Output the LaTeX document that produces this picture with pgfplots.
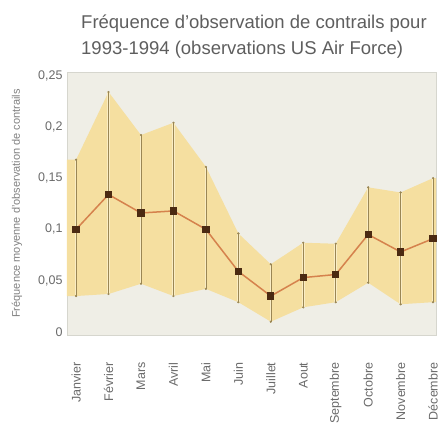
\documentclass[border=0pt]{standalone}
\usepackage{pgfplots}
\pgfplotsset{compat=1.18}
\usepackage{pgfplotstable}
\usepackage{fontspec}
\setmainfont{Liberation Sans}
\definecolor{bgc}{HTML}{EFEEE6}
\definecolor{bandc}{HTML}{F5DFA0}
\definecolor{barc}{HTML}{9A8654}
\definecolor{glowc}{HTML}{FAEDC4}
\definecolor{linec}{HTML}{D5824D}
\definecolor{markc}{HTML}{4B2A12}
\definecolor{titlec}{HTML}{5E5E5E}
\definecolor{tickc}{HTML}{6A6A6A}
\definecolor{framec}{HTML}{D6D6CE}

\pgfplotstableread{
x mean lo hi
0 0.100 0.035 0.168
1 0.134 0.037 0.234
2 0.116 0.047 0.192
3 0.118 0.035 0.204
4 0.100 0.042 0.161
5 0.059 0.029 0.096
6 0.035 0.010 0.066
7 0.053 0.024 0.087
8 0.056 0.029 0.086
9 0.095 0.048 0.141
10 0.078 0.027 0.136
11 0.091 0.029 0.150
}\data

% band outline: upper edge left to right, then lower edge right to left
\pgfplotstableread{
x y
-0.28 0.168
0 0.168
1 0.234
2 0.192
3 0.204
4 0.161
5 0.096
6 0.066
7 0.087
8 0.086
9 0.141
10 0.136
11 0.150
11.09 0.150
11.09 0.029
11 0.029
10 0.027
9 0.048
8 0.029
7 0.024
6 0.010
5 0.029
4 0.042
3 0.035
2 0.047
1 0.037
0 0.035
-0.28 0.035
}\band

\begin{document}
\begin{tikzpicture}
\begin{axis}[
  at={(0,0)}, anchor=south west,
  scale only axis,
  width=369pt, height=263pt,
  xmin=-0.28, xmax=11.09,
  ymin=-0.003, ymax=0.2535,
  axis background/.style={fill=bgc},
  axis line style={draw=framec, line width=0.8pt},
  xtick={0,...,11},
  xticklabels={Janvier,Février,Mars,Avril,Mai,Juin,Juillet,Aout,Septembre,Octobre,Novembre,Décembre},
  ytick={0,0.05,0.1,0.15,0.2,0.25},
  yticklabel style={/pgf/number format/use comma, /pgf/number format/fixed, /pgf/number format/assume math mode=true, font=\fontsize{12.5}{14}\selectfont, text=tickc},
  xticklabel style={rotate=90, anchor=east, font=\fontsize{12.5}{14}\selectfont, text=tickc},
  xticklabel shift=24pt,
  yticklabel shift=1pt,
  major tick length=0pt,
  tick style={draw=none},
  ylabel={Fréquence moyenne d'observation de contrails},
  ylabel style={font=\fontsize{11}{13}\selectfont, text=gray, at={(axis description cs:0,0.5)}, anchor=center, yshift=50pt},
  clip=false,
]
\addplot[fill=bandc, draw=none] table[x=x, y=y] {\band} -- cycle;

\addplot[only marks, mark=none,
  error bars/.cd, y dir=both, y explicit,
  error bar style={line width=2.5pt, color=glowc},
  error mark=none]
  table[x=x, y=mean, y error plus expr=\thisrow{hi}-\thisrow{mean}, y error minus expr=\thisrow{mean}-\thisrow{lo}] {\data};
\addplot[only marks, mark=none,
  error bars/.cd, y dir=both, y explicit,
  error bar style={line width=0.45pt, color=barc},
  error mark=*, error mark options={mark size=0.9pt, fill=barc, draw=barc}]
  table[x=x, y=mean, y error plus expr=\thisrow{hi}-\thisrow{mean}, y error minus expr=\thisrow{mean}-\thisrow{lo}] {\data};

\addplot[color=linec, line width=1.5pt, mark=square*, mark size=2.9pt, mark options={fill=markc, draw=markc, rounded corners=1.2pt}] table[x=x, y=mean] {\data};
\end{axis}
\node[anchor=base west, text=titlec, font=\fontsize{18.5}{22}\selectfont, inner sep=0pt] at (14pt,306pt) {Fréquence d'observation de contrails pour};
\node[anchor=base west, text=titlec, font=\fontsize{18.5}{22}\selectfont, inner sep=0pt] at (14pt,280pt) {1993-1994 (observations US Air Force)};
\pgfresetboundingbox
\path[use as bounding box] (-67pt,-91pt) rectangle (380pt,335pt);
\end{tikzpicture}
\end{document}
